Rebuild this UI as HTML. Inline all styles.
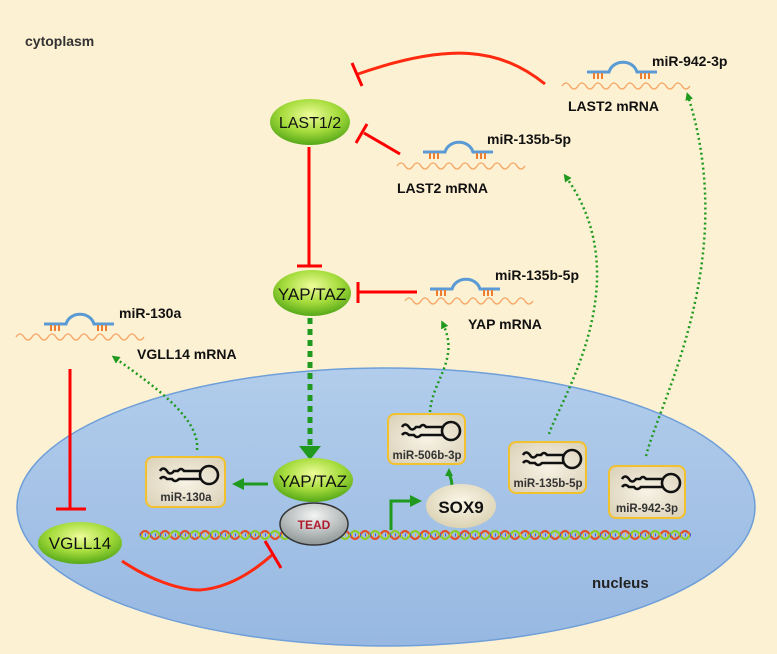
<!DOCTYPE html>
<html><head><meta charset="utf-8"><style>
html,body{margin:0;padding:0;background:#fdf1d3;}
svg{display:block;font-family:"Liberation Sans",sans-serif;}
</style></head><body>
<svg width="777" height="654" viewBox="0 0 777 654" xmlns="http://www.w3.org/2000/svg">
<defs>
<radialGradient id="g" cx="50%" cy="35%" r="65%"><stop offset="0" stop-color="#eefc9a"/><stop offset="0.55" stop-color="#a6dc3c"/><stop offset="1" stop-color="#55a818"/></radialGradient>
<linearGradient id="nuc" x1="0" y1="0" x2="0" y2="1"><stop offset="0" stop-color="#b2cdeb"/><stop offset="1" stop-color="#97b8e2"/></linearGradient>
<radialGradient id="tead" cx="50%" cy="30%" r="70%"><stop offset="0" stop-color="#f4f4f4"/><stop offset="1" stop-color="#8e9696"/></radialGradient>
<radialGradient id="sox" cx="50%" cy="40%" r="60%"><stop offset="0" stop-color="#fbf6e8"/><stop offset="1" stop-color="#dcd3b4"/></radialGradient>
<radialGradient id="box" cx="50%" cy="50%" r="70%"><stop offset="0" stop-color="#f8f3e6"/><stop offset="1" stop-color="#d9cfb5"/></radialGradient>
<marker id="ga" markerWidth="8" markerHeight="8" refX="4" refY="4" orient="auto" markerUnits="userSpaceOnUse"><path d="M0,0 L8,4 L0,8z" fill="#1f9a1f"/></marker>
<marker id="gb" markerWidth="12" markerHeight="12" refX="6" refY="6" orient="auto" markerUnits="userSpaceOnUse"><path d="M0,0 L12,6 L0,12z" fill="#1f9a1f"/></marker>
<g id="hp" fill="none" stroke="#111" stroke-width="2.6"><path d="M0,6 q3,-5 7,0 q3,5 7,0 h4 q3,-4 6,0 h16"/><path d="M0,14 q3,-4 7,0 h5 q3,4 7,0 h21"/><circle cx="49" cy="10" r="9"/></g>
<g id="dup"><path d="M0,0 h22 c4,-13 24,-13 28,0 h20" fill="none" stroke="#5b9bd5" stroke-width="3"/><path d="M7,1v6M11,1v6M15,1v6M54,1v6M58,1v6M62,1v6" stroke="#ed7d31" stroke-width="2"/></g>
</defs>
<rect width="777" height="654" fill="#fdf1d3"/>
<ellipse cx="386" cy="507" rx="369" ry="139" fill="url(#nuc)" stroke="#6f9fd8" stroke-width="1.5"/>
<text x="25" y="46" font-size="14" font-weight="bold" fill="#333">cytoplasm</text>
<text x="592" y="588" font-size="15" font-weight="bold" fill="#222">nucleus</text>

<g fill="none" stroke="#f4a460" stroke-width="1.3">
<path d="M562,86 q4,-6 8,0 t8,0 t8,0 t8,0 t8,0 t8,0 t8,0 t8,0 t8,0 t8,0 t8,0 t8,0 t8,0 t8,0 t8,0 t8,0"/>
<path d="M397,166 q4,-6 8,0 t8,0 t8,0 t8,0 t8,0 t8,0 t8,0 t8,0 t8,0 t8,0 t8,0 t8,0 t8,0 t8,0 t8,0 t8,0"/>
<path d="M405,301 q4,-6 8,0 t8,0 t8,0 t8,0 t8,0 t8,0 t8,0 t8,0 t8,0 t8,0 t8,0 t8,0 t8,0 t8,0 t8,0 t8,0"/>
<path d="M16,337 q4,-6 8,0 t8,0 t8,0 t8,0 t8,0 t8,0 t8,0 t8,0 t8,0 t8,0 t8,0 t8,0 t8,0 t8,0 t8,0 t8,0"/>
</g>
<use href="#dup" x="587" y="72"/>
<use href="#dup" x="423" y="152"/>
<use href="#dup" x="430" y="289"/>
<use href="#dup" x="44" y="324"/>
<g font-size="14" font-weight="bold" fill="#111">
<text x="652" y="66">miR-942-3p</text>
<text x="568" y="111">LAST2 mRNA</text>
<text x="487" y="144">miR-135b-5p</text>
<text x="397" y="193">LAST2 mRNA</text>
<text x="495" y="280">miR-135b-5p</text>
<text x="468" y="329">YAP mRNA</text>
<text x="119" y="318">miR-130a</text>
<text x="137" y="359">VGLL14 mRNA</text>
</g>

<g fill="none" stroke="#f00" stroke-width="3">
<path d="M545,84 C500,48 450,42 358,74" stroke="#ff2a10"/>
<path d="M352,63 L362,86"/>
<path d="M400,154 L364,133"/>
<path d="M356,143 L367,124"/>
<path d="M309,147 V266"/><path d="M297,266 H322"/>
<path d="M417,292 H358"/><path d="M358,282 V303"/>
<path d="M70,369 V508"/><path d="M56,509 H86"/>
<path d="M122,561 C150,580 180,590 200,590 C230,588 255,570 272,555" stroke="#ff2a10"/>
<path d="M265,541 L281,568"/>
</g>

<g fill="none" stroke-width="2.2">
<path d="M140,535 q5,-8 10,0 t10,0 t10,0 t10,0 t10,0 t10,0 t10,0 t10,0 t10,0 t10,0 t10,0 t10,0 t10,0 t10,0 t10,0 t10,0 t10,0 t10,0 t10,0 t10,0 t10,0 t10,0 t10,0 t10,0 t10,0 t10,0 t10,0 t10,0 t10,0 t10,0 t10,0 t10,0 t10,0 t10,0 t10,0 t10,0 t10,0 t10,0 t10,0 t10,0 t10,0 t10,0 t10,0 t10,0 t10,0 t10,0 t10,0 t10,0 t10,0 t10,0 t10,0 t10,0 t10,0 t10,0 t10,0" stroke="#e0502a"/>
<path d="M140,535 q5,8 10,0 t10,0 t10,0 t10,0 t10,0 t10,0 t10,0 t10,0 t10,0 t10,0 t10,0 t10,0 t10,0 t10,0 t10,0 t10,0 t10,0 t10,0 t10,0 t10,0 t10,0 t10,0 t10,0 t10,0 t10,0 t10,0 t10,0 t10,0 t10,0 t10,0 t10,0 t10,0 t10,0 t10,0 t10,0 t10,0 t10,0 t10,0 t10,0 t10,0 t10,0 t10,0 t10,0 t10,0 t10,0 t10,0 t10,0 t10,0 t10,0 t10,0 t10,0 t10,0 t10,0 t10,0 t10,0" stroke="#8ccc2a"/>
<path d="M140,535 H692" stroke="#4a5ad0" stroke-width="3" stroke-dasharray="1 4"/>
<path d="M142,535 H692" stroke="#f0c020" stroke-width="3" stroke-dasharray="1 6"/>
</g>

<g fill="none" stroke="#1f9a1f">
<path d="M310,318 V446" stroke-width="5" stroke-dasharray="6 5"/>
<path d="M299,446 L321,446 L310,460z" fill="#1f9a1f" stroke="none"/>
<path d="M268,484 H238" stroke-width="3" marker-end="url(#gb)"/>
<path d="M391,530 V501 H416" stroke-width="3" marker-end="url(#gb)"/>
<path d="M452,486 C452,478 449,476 449,472" stroke-width="3" marker-end="url(#ga)"/>
<g stroke-width="2.5" stroke-dasharray="2 3">
<path d="M197,450 C200,420 160,390 115,358" marker-end="url(#ga)"/>
<path d="M430,412 C432,380 460,360 443,324" marker-end="url(#ga)"/>
<path d="M549,434 C560,400 640,280 566,177" marker-end="url(#ga)"/>
<path d="M646,456 C660,400 740,260 688,96" marker-end="url(#ga)"/>
</g>
</g>

<ellipse cx="310" cy="122" rx="40" ry="23" fill="url(#g)"/>
<text x="310" y="128" font-size="16" text-anchor="middle" fill="#111">LAST1/2</text>
<ellipse cx="312" cy="293" rx="39" ry="23" fill="url(#g)"/>
<text x="312" y="300" font-size="17" text-anchor="middle" fill="#111">YAP/TAZ</text>
<ellipse cx="313" cy="480" rx="40" ry="22" fill="url(#g)"/>
<text x="313" y="487" font-size="17" text-anchor="middle" fill="#111">YAP/TAZ</text>
<ellipse cx="314" cy="524" rx="34" ry="21" fill="url(#tead)" stroke="#333" stroke-width="1.5"/>
<text x="314" y="529" font-size="12" font-weight="bold" text-anchor="middle" fill="#b01c2e">TEAD</text>
<ellipse cx="80" cy="543" rx="42" ry="21" fill="url(#g)"/>
<text x="80" y="549" font-size="17" text-anchor="middle" fill="#111">VGLL14</text>
<ellipse cx="461" cy="506" rx="35" ry="22" fill="url(#sox)"/>
<text x="461" y="513" font-size="17" font-weight="bold" text-anchor="middle" fill="#111">SOX9</text>

<g stroke="#f2c12e" stroke-width="2" fill="url(#box)">
<rect x="146" y="457" width="79" height="50" rx="7"/>
<rect x="388" y="414" width="77" height="50" rx="7"/>
<rect x="509" y="442" width="77" height="51" rx="7"/>
<rect x="609" y="466" width="76" height="52" rx="7"/>
</g>
<use href="#hp" x="160" y="465"/>
<use href="#hp" x="402" y="421"/>
<use href="#hp" x="523" y="449"/>
<use href="#hp" x="622" y="473"/>
<g font-size="11.5" font-weight="bold" fill="#333" text-anchor="middle">
<text x="186" y="501">miR-130a</text>
<text x="427" y="459">miR-506b-3p</text>
<text x="548" y="487">miR-135b-5p</text>
<text x="647" y="512">miR-942-3p</text>
</g>
</svg>
</body></html>
